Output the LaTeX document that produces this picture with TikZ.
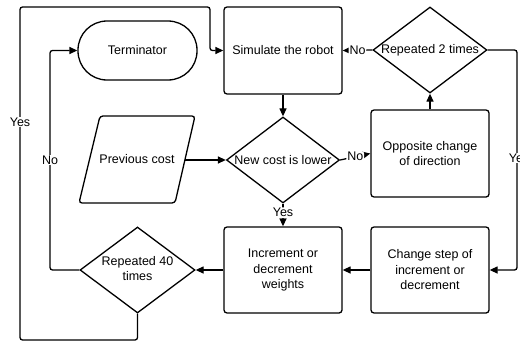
\documentclass[tikz,border=0pt]{standalone}
\usepackage{fontspec}
\setmainfont{Liberation Sans}
\usetikzlibrary{shapes.geometric,arrows.meta}
\begin{document}
\begin{tikzpicture}[x=1pt,y=-1pt,
  font=\fontsize{12.5}{15.5}\selectfont,
  box/.style={draw, line width=1.3pt, rounded corners=3pt, minimum width=118pt, minimum height=87pt, align=center, inner sep=0pt},
  dia/.style={draw, line width=1.3pt, diamond, minimum width=114pt, minimum height=86pt, inner sep=0pt},
  conn/.style={line width=1.3pt, rounded corners=2.5pt},
  arr/.style={conn, -{Triangle[length=8pt,width=7pt]}},
  lbl/.style={fill=white, inner sep=1pt}]
\useasboundingbox (0,0) rectangle (520,343);
% nodes
\node[box, rounded corners=29pt, minimum width=119pt, minimum height=59pt] (term) at (137.5,50.5) {Terminator};
\node[box] (sim) at (283,50.5) {Simulate the robot};
\node[dia] (r2) at (430,50) {\makebox[0pt]{Repeated 2 times}};
% parallelogram (Previous cost)
\coordinate (p1) at (100,116);
\coordinate (p2) at (195,116);
\coordinate (p3) at (175,203);
\coordinate (p4) at (79,203);
\coordinate (prevE) at (185,160);
\draw[line width=1.3pt, rounded corners=3pt] (p1) -- (p2) -- (p3) -- (p4) -- cycle;
\node (prev) at (137,159.5) {Previous cost};
\node[dia, minimum width=113pt] (newc) at (283,160) {\makebox[0pt]{New cost is lower}};
\node[box] (opp) at (430,153.5) {Opposite change\\of direction};
\node[box, minimum height=86pt] (inc) at (283,270) {Increment or\\decrement\\weights};
\node[box, minimum height=86pt] (chg) at (430,270) {Change step of\\increment or\\decrement};
\node[dia, minimum width=115pt] (r40) at (137.5,270) {\makebox[0pt]{\begin{tabular}{@{}c@{}}Repeated 40\\times\end{tabular}}};
% helper coordinates
\coordinate (ya) at (20,340);
\coordinate (yb) at (210,7);
\coordinate (nb) at (50,160);
\coordinate (ra) at (517,160);
% connectors
\draw[arr] (sim) -- (newc);
\draw[arr] (prevE) -- (newc.west);
\draw[arr] (newc.east) -- node[lbl] {No} (opp.west);
\draw[arr] (opp) -- (r2.south);
\draw[arr] (r2.west) -- node[lbl] {No} (sim.east);
\draw[arr] (newc.south) -- node[lbl, pos=0.4] {Yes} (inc.north);
\draw[arr] (chg) -- (inc);
\draw[arr] (inc.west) -- (r40.east);
\draw[arr] (r2.east) -| (ra) |- (chg.east);
\draw[arr] (r40.west) -| (nb) |- (term.west);
\draw[arr] (r40.south) |- (ya) |- (yb) |- (sim.west);
% labels on long connectors
\node[lbl] (lyes) at (20,122) {Yes};
\node[lbl] (lno) at (50,160) {No};
\node[lbl] (ryes) at (519,158) {Yes};
\end{tikzpicture}
\end{document}
